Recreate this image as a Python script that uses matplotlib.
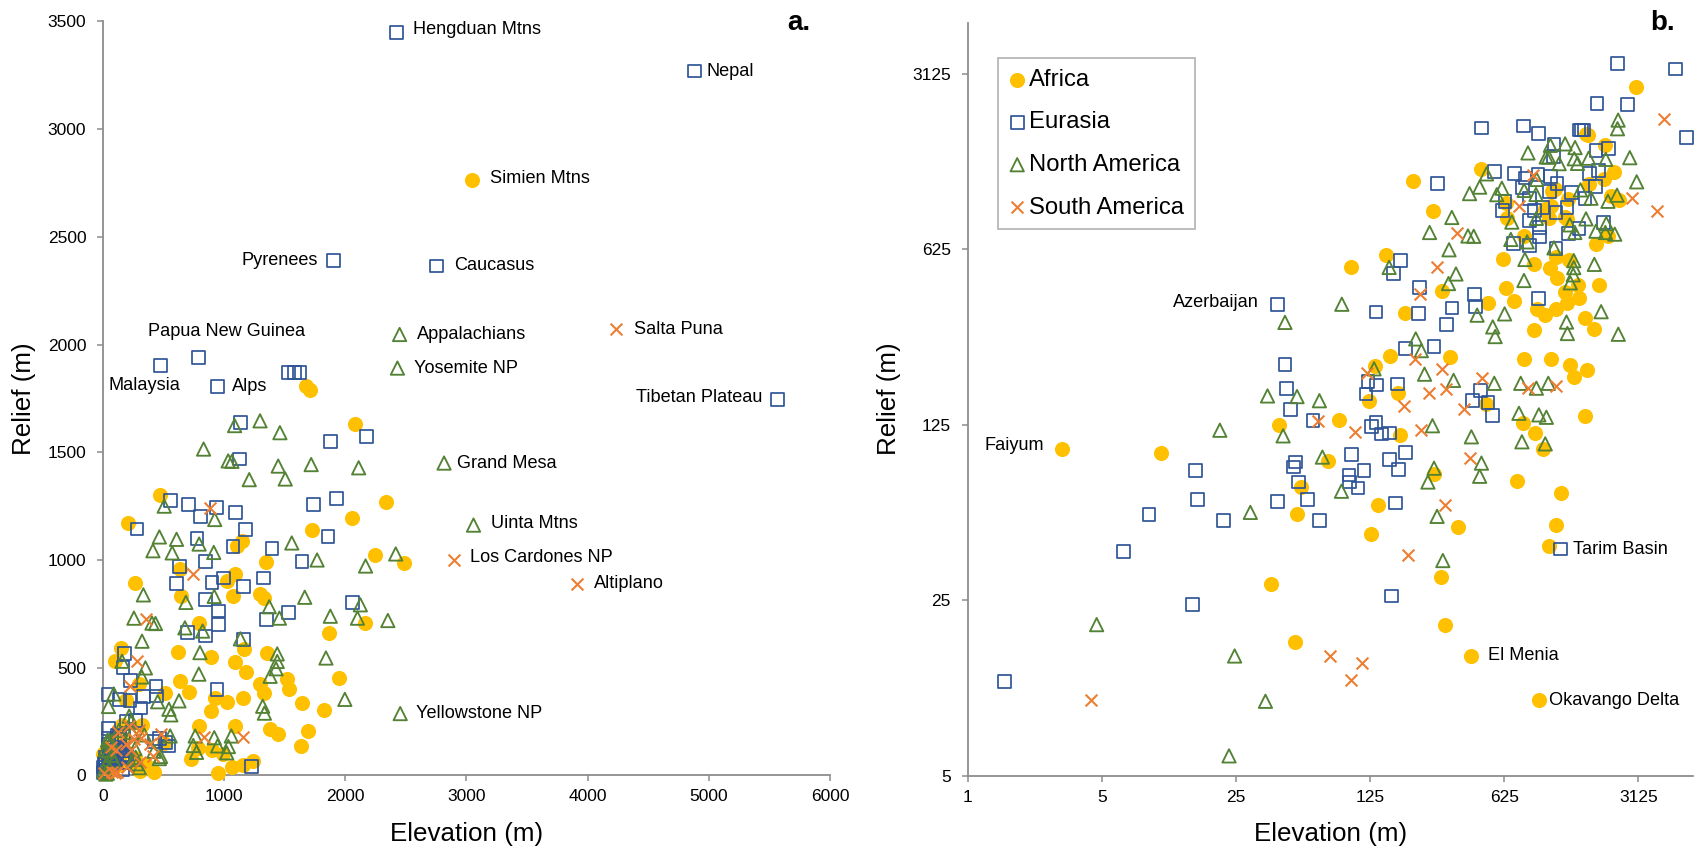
import matplotlib
matplotlib.use("Agg")
import matplotlib.pyplot as plt
from matplotlib.ticker import FixedLocator, FixedFormatter, NullLocator

plt.rcParams['font.family'] = ['Liberation Sans', 'DejaVu Sans']

# ---------------------------------------------------------------------------
# Site data: mean elevation (m) and relief (m), grouped by continent
# ---------------------------------------------------------------------------
africa_elev = [3049, 1675, 1712, 2079, 471, 208, 2336, 2056, 1729, 1150,
               1106, 1345, 2243, 2482, 267, 637, 1092, 1023, 642, 1070,
               1299, 1326, 2159, 1869, 794, 1161, 615, 891, 1086, 1180,
               1354, 1946, 152, 99, 637, 706, 926, 1023, 1155, 1299,
               1332, 1519, 1533, 1643, 1828, 891, 791, 1092, 1376, 1442,
               1690, 513, 296,
               3.1, 10.2, 42, 52, 54.5, 38, 51, 75, 305, 291,
               358, 127, 137, 86, 178, 268, 124, 191, 158, 324,
               132, 175, 421, 946, 727, 1238, 1156, 1067, 1637, 782,
               899, 994, 504]
africa_relief = [2766, 1806, 1787, 1631, 1303, 1172, 1267, 1196, 1137, 1090,
                 1064, 992, 1021, 988, 891, 959, 933, 902, 835, 835,
                 840, 824, 708, 659, 709, 585, 572, 549, 526, 480,
                 566, 452, 593, 531, 438, 389, 361, 342, 361, 423,
                 384, 449, 399, 334, 302, 299, 229, 229, 217, 194,
                 206, 384, 425,
                 100, 97, 125, 55, 71, 29, 17, 90, 20, 31,
                 49, 46, 60, 131, 114, 80, 156, 350, 236, 232,
                 215, 168, 15, 10, 75, 67, 50, 41, 135, 127,
                 116, 100, 151]

eurasia_elev = [2420, 4880, 1900, 2750, 5570, 786, 477, 945, 1533, 1580,
                1624, 1133, 1127, 1877, 2175, 554, 706, 802, 935, 1092,
                280, 1174, 1072, 775, 844, 631, 1395, 1740, 1927, 1858,
                1643, 1326, 609, 899, 995, 1161, 844, 954, 954, 1348,
                1533, 2057, 700, 844, 1161, 180, 165, 940, 438, 444,
                225,
                1.56, 6.5, 8.8, 15.4, 15.7, 14.8, 21.6, 41, 51, 50,
                53, 59, 68, 48, 63, 41, 45, 46, 1228, 162,
                170, 100, 97, 98, 108, 116, 158, 175, 191, 127,
                134, 143, 158, 542, 134, 223, 312, 334, 191, 269,
                122, 135, 119, 173, 468, 426, 514]
eurasia_relief = [3450, 3270, 2390, 2365, 1745, 1941, 1903, 1806, 1871, 1871,
                  1871, 1639, 1469, 1551, 1574, 1277, 1257, 1203, 1245, 1222,
                  1144, 1141, 1064, 1100, 994, 971, 1052, 1256, 1286, 1110,
                  994, 917, 891, 894, 917, 878, 817, 763, 701, 724,
                  755, 801, 662, 647, 631, 565, 500, 399, 412, 369,
                  441,
                  11.9, 39, 55, 82, 63, 24, 52, 62, 89, 85,
                  74, 63, 52, 144, 130, 376, 218, 174, 40, 26,
                  61, 95, 79, 74, 70, 82, 91, 83, 97, 123,
                  128, 115, 116, 136, 352, 347, 313, 365, 252, 256,
                  186, 180, 166, 182, 171, 156, 153]

namerica_elev = [2448, 2430, 2815, 3058, 2453, 1086, 1296, 1460, 830, 1033,
                 1064, 1446, 1718, 2110, 1207, 1504, 505, 922, 465, 607,
                 412, 571, 793, 914, 1558, 1767, 2167, 2416, 333, 684,
                 918, 1665, 1372, 1456, 1876, 2124, 2100, 2351, 255, 404,
                 433, 676, 822, 322, 1134, 800, 1438, 1438, 1428, 1379,
                 1840, 791, 157, 350, 320, 1996, 1318, 1332, 627, 451,
                 544, 560, 761, 918, 1059, 554,
                 4.7, 24.6, 35.6, 23, 29.7, 20.6, 44, 70.5, 36.5, 52,
                 68, 45, 89, 299, 279, 269, 250, 264, 421, 475,
                 465, 88.6, 745, 946, 1035, 772, 1021, 216, 231, 240,
                 340, 131]
namerica_relief = [2047, 1891, 1450, 1162, 287, 1624, 1646, 1591, 1515, 1460,
                   1458, 1436, 1443, 1428, 1373, 1376, 1250, 1188, 1107, 1096,
                   1043, 1033, 1074, 1035, 1079, 1000, 972, 1028, 838, 803,
                   831, 827, 783, 730, 739, 792, 730, 719, 730, 707,
                   705, 685, 670, 623, 634, 570, 564, 529, 495, 460,
                   545, 470, 530, 499, 457, 353, 321, 289, 346, 342,
                   307, 281, 183, 175, 183, 183,
                   20, 15, 9.9, 6, 56, 119, 113, 93, 163, 162,
                   156, 320, 378, 36, 54, 84, 74, 124, 112, 88,
                   78, 68, 139, 137, 134, 107, 105, 275, 247, 199,
                   188, 209]

samerica_elev = [4233, 2897, 3910, 880, 746, 356, 279, 226, 834, 1156, 480,
                 4.4, 67, 77, 114, 99, 198, 305, 413, 104, 231,
                 188, 385, 213, 296, 312, 253, 120]
samerica_relief = [2072, 1001, 890, 1240, 934, 727, 531, 415, 176, 178, 192,
                   10, 130, 15, 14, 12, 38, 60, 92, 117, 119,
                   148, 145, 229, 209, 174, 167, 202]

continents = ["Africa", "Eurasia", "North America", "South America"]

# named sites: (label, elevation, relief, x-offset px, y-offset px, alignment)
labels_linear = [
    ("Hengduan Mtns", 2420, 3450, 17, 3, "left"),
    ("Nepal", 4880, 3270, 12, 0, "left"),
    ("Simien Mtns", 3049, 2766, 18, 1, "left"),
    ("Pyrenees", 1900, 2390, -15, 0, "right"),
    ("Caucasus", 2750, 2365, 18, 0, "left"),
    ("Papua New Guinea", 786, 1941, 28, 26, "center"),
    ("Malaysia", 477, 1903, -16, -20, "center"),
    ("Alps", 945, 1806, 14, 0, "left"),
    ("Appalachians", 2448, 2047, 17, 0, "left"),
    ("Yosemite NP", 2430, 1891, 17, 0, "left"),
    ("Salta Puna", 4233, 2072, 18, 0, "left"),
    ("Tibetan Plateau", 5570, 1745, -15, 2, "right"),
    ("Grand Mesa", 2815, 1450, 13, 0, "left"),
    ("Uinta Mtns", 3058, 1162, 17, 2, "left"),
    ("Los Cardones NP", 2897, 1001, 16, 2, "left"),
    ("Altiplano", 3910, 890, 17, 0, "left"),
    ("Yellowstone NP", 2453, 287, 16, 0, "left"),
]
labels_log = [
    ("Faiyum", 3.1, 100, -18, 4, "right"),
    ("Azerbaijan", 41, 376, -18, 2, "right"),
    ("Tarim Basin", 1228, 40, 12, 0, "left"),
    ("El Menia", 421, 15, 17, 0, "left"),
    ("Okavango Delta", 946, 10, 10, 0, "left"),
]

# marker styles per continent
styles = {
    "Africa": dict(marker="o", s=118, c="#FFC000", linewidths=0),
    "Eurasia": dict(marker="s", s=84, facecolors="none",
                    edgecolors="#2F5597", linewidths=1.25),
    "North America": dict(marker="^", s=92, facecolors="none",
                          edgecolors="#548235", linewidths=1.35),
    "South America": dict(marker="x", s=72, c="#ED7D31", linewidths=1.5),
}
series = {
    "Africa": (africa_elev, africa_relief),
    "Eurasia": (eurasia_elev, eurasia_relief),
    "North America": (namerica_elev, namerica_relief),
    "South America": (samerica_elev, samerica_relief),
}

SPINE = "#8C8C8C"
TICK_FS = 12.5
LABEL_FS = 13.1

fig = plt.figure(figsize=(17, 8.49), dpi=100)
ax_a = fig.add_axes([0.0606, 0.0867, 0.4276, 0.888])
ax_b = fig.add_axes([0.5692, 0.0863, 0.4266, 0.8869])


def style_axes(ax):
    for side in ("top", "right"):
        ax.spines[side].set_visible(False)
    for side in ("left", "bottom"):
        ax.spines[side].set_color(SPINE)
        ax.spines[side].set_linewidth(1.3)
    ax.tick_params(axis="both", which="major", direction="out", length=4,
                   width=1.1, color=SPINE, labelsize=TICK_FS,
                   labelcolor="black")
    ax.tick_params(axis="x", pad=6)
    ax.tick_params(axis="y", pad=8)
    ax.tick_params(which="minor", length=0)


for ax in (ax_a, ax_b):
    for name in continents:
        x, y = series[name]
        ax.scatter(x, y, label=name, clip_on=False, zorder=3,
                   **styles[name])
    style_axes(ax)

# panel a: linear axes
ax_a.set_xlim(0, 6000)
ax_a.set_ylim(0, 3500)
ax_a.xaxis.set_major_locator(FixedLocator(range(0, 6001, 1000)))
ax_a.yaxis.set_major_locator(FixedLocator(range(0, 3501, 500)))

# panel b: logarithmic axes, base 5
ax_b.set_xscale("log", base=5)
ax_b.set_yscale("log", base=5)
ax_b.set_xlim(1, 6000)
ax_b.set_ylim(5, 5000)
xt = [1, 5, 25, 125, 625, 3125]
yt = [5, 25, 125, 625, 3125]
ax_b.xaxis.set_major_locator(FixedLocator(xt))
ax_b.xaxis.set_major_formatter(FixedFormatter([str(v) for v in xt]))
ax_b.yaxis.set_major_locator(FixedLocator(yt))
ax_b.yaxis.set_major_formatter(FixedFormatter([str(v) for v in yt]))
ax_b.xaxis.set_minor_locator(NullLocator())
ax_b.yaxis.set_minor_locator(NullLocator())

for ax, items in ((ax_a, labels_linear), (ax_b, labels_log)):
    for text, ex, rl, dx, dy, ha in items:
        ax.annotate(text, (ex, rl), xytext=(dx, dy),
                    textcoords="offset pixels", ha=ha, va="center",
                    fontsize=LABEL_FS, color="black", zorder=5,
                    annotation_clip=False)

leg = ax_b.legend(loc="upper left", bbox_to_anchor=(0.042, 0.953),
                  fontsize=17.2, frameon=True, fancybox=False,
                  edgecolor="#A6A6A6", handlelength=0.7,
                  handletextpad=0.15, labelspacing=0.86, borderpad=0.45,
                  borderaxespad=0, scatterpoints=1)
leg.get_frame().set_linewidth(1.3)

# axis titles and panel letters
fig.text(0.2744, 0.0094, "Elevation (m)", ha="center", va="baseline",
         fontsize=18.7)
fig.text(0.7825, 0.0094, "Elevation (m)", ha="center", va="baseline",
         fontsize=18.7)
fig.text(0.0141, 0.5306, "Relief (m)", ha="center", va="center",
         rotation=90, fontsize=18.7)
fig.text(0.523, 0.5306, "Relief (m)", ha="center", va="center",
         rotation=90, fontsize=18.7)
fig.text(810 / 1700, 1 - 30 / 849, "a.", ha="right", va="baseline",
         fontsize=20, fontweight="bold")
fig.text(1675 / 1700, 1 - 30 / 849, "b.", ha="right", va="baseline",
         fontsize=20, fontweight="bold")

fig.savefig("out.png", dpi=100)
